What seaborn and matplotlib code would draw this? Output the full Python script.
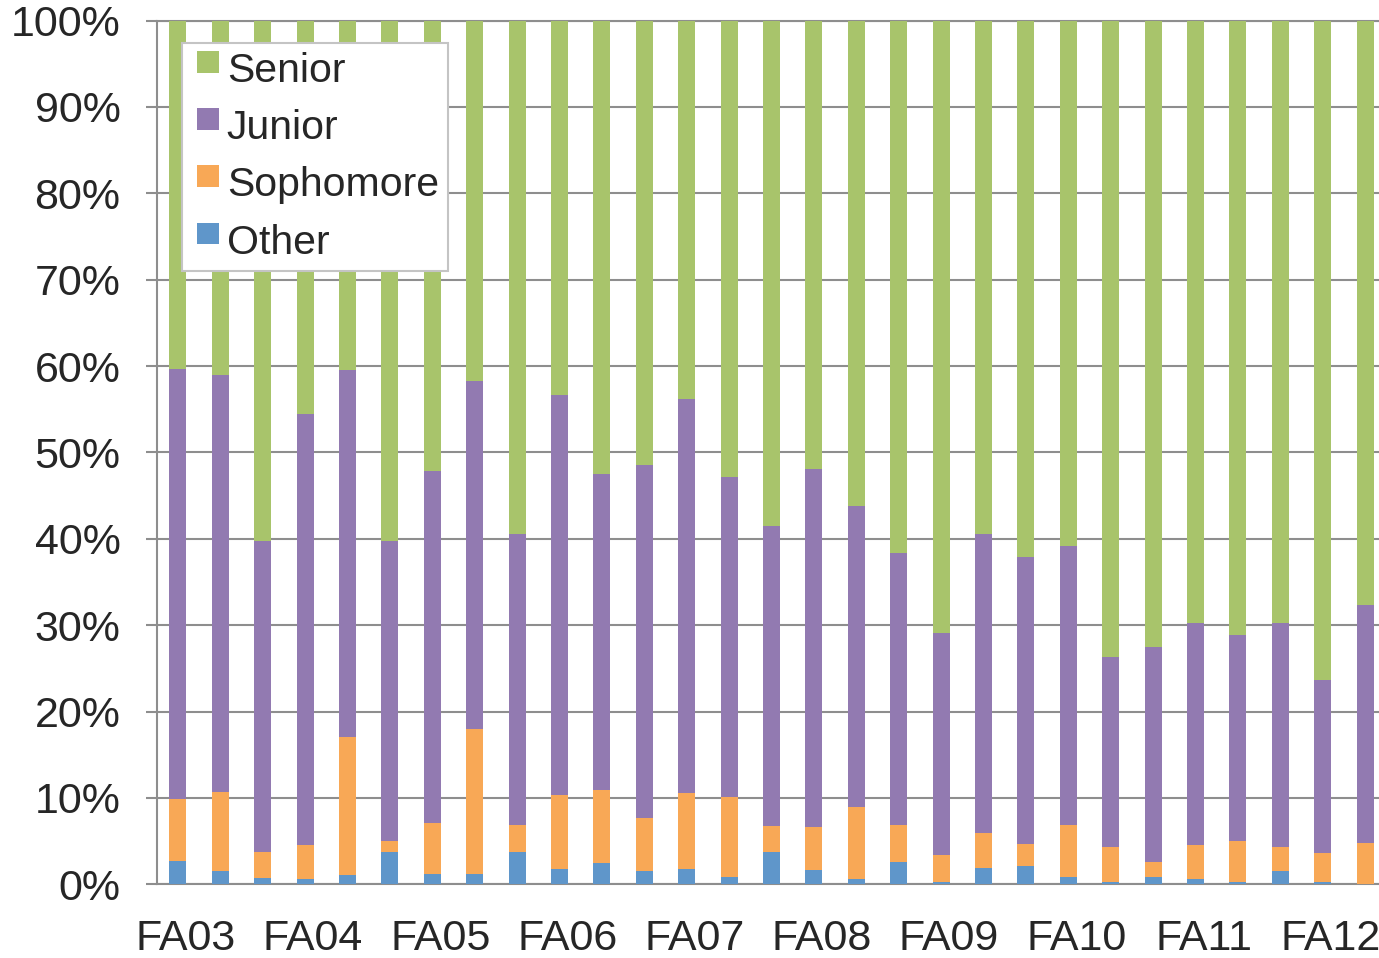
import numpy as np
import pandas as pd
import matplotlib
matplotlib.use("Agg")
import matplotlib.pyplot as plt
from matplotlib.patches import Rectangle
from matplotlib.legend_handler import HandlerPatch
from matplotlib.transforms import ScaledTranslation
from matplotlib.ticker import FixedLocator, PercentFormatter
import seaborn as sns

# Academic terms (fall, spring, summer)
terms = ["FA03", "SP04", "SU04", "FA04", "SP05", "SU05", "FA05", "SP06", "SU06",
         "FA06", "SP07", "SU07", "FA07", "SP08", "SU08", "FA08", "SP09", "SU09",
         "FA09", "SP10", "SU10", "FA10", "SP11", "SU11", "FA11", "SP12", "SU12",
         "FA12", "SP13"]
tick_labels = ["FA03", "FA04", "FA05", "FA06", "FA07", "FA08", "FA09", "FA10", "FA11", "FA12"]

# Share of enrollment by class standing (%)
other = [2.7, 1.5, 0.7, 0.6, 1.1, 3.7, 1.2, 1.2, 3.7, 1.8, 2.5, 1.5, 1.8, 0.8, 3.7,
         1.7, 0.6, 2.6, 0.3, 1.9, 2.1, 0.8, 0.3, 0.8, 0.6, 0.3, 1.6, 0.3, 0.0]
sophomore = [7.2, 9.2, 3.1, 4.0, 15.9, 1.3, 5.9, 16.8, 3.2, 8.5, 8.4, 6.2, 8.8, 9.3, 3.1,
             4.9, 8.3, 4.3, 3.1, 4.0, 2.6, 6.1, 4.0, 1.8, 4.0, 4.7, 2.7, 3.3, 4.8]
junior = [49.8, 48.3, 35.9, 49.9, 42.5, 34.8, 40.8, 40.3, 33.7, 46.3, 36.6, 40.9, 45.6, 37.0, 34.7,
          41.5, 34.9, 31.5, 25.7, 34.7, 33.2, 32.3, 22.0, 24.9, 25.7, 23.9, 25.9, 20.0, 27.5]
senior = [40.3, 41.0, 60.3, 45.5, 40.5, 60.2, 52.1, 41.7, 59.4, 43.4, 52.5, 51.4, 43.8, 52.9, 58.5,
          51.9, 56.2, 61.6, 70.9, 59.4, 62.1, 60.8, 73.7, 72.5, 69.7, 71.1, 69.8, 76.4, 67.7]

groups = ["Other", "Sophomore", "Junior", "Senior"]
colors = {"Senior": "#A8C46B", "Junior": "#927AB1", "Sophomore": "#F8A856", "Other": "#5F96CA"}

df = pd.DataFrame({"term": terms, "Other": other, "Sophomore": sophomore,
                   "Junior": junior, "Senior": senior})
shares = df[groups].div(df[groups].sum(axis=1), axis=0) * 100
cum = shares.cumsum(axis=1)
cum["term"] = df["term"]

sns.set_style("white")
plt.rcParams["font.family"] = ["Liberation Sans", "DejaVu Sans"]

grid_gray = "#8E8E8E"
fig = plt.figure(figsize=(13.79, 9.58), dpi=100)
ax = fig.add_axes([0.1136, 0.0769, 0.8917, 0.9017])

# Stack drawn back-to-front: cumulative tops, largest first
for g in ["Senior", "Junior", "Sophomore", "Other"]:
    sns.barplot(data=cum, x="term", y=g, order=terms, color=colors[g],
                saturation=1, width=0.4, label=g, ax=ax, zorder=3,
                linewidth=0, edgecolor="none")

ax.set_xlim(-0.5, len(terms) - 0.5)
ax.set_ylim(0, 100)
ax.set_xlabel("")
ax.set_ylabel("")

ax.yaxis.set_major_locator(FixedLocator(np.arange(0, 101, 10)))
ax.yaxis.set_major_formatter(PercentFormatter(decimals=0))
ax.grid(axis="y", color=grid_gray, linewidth=1.5, zorder=0)
ax.grid(axis="x", visible=False)
ax.set_axisbelow(True)

label_pos = [terms.index(t) for t in tick_labels]
ax.set_xticks(label_pos)
ax.set_xticklabels(tick_labels)
ax.set_xticks(np.arange(-0.5, len(terms), 1.0), minor=True)

ax.tick_params(axis="x", which="major", length=0, pad=25, labelsize=31)
ax.tick_params(axis="x", which="minor", length=8, width=1.5, color=grid_gray, direction="out")
ax.tick_params(axis="y", which="major", length=8, width=1.5, color=grid_gray,
               direction="out", pad=18, labelsize=31, left=True)

shift = ScaledTranslation(8 / 100, 0, fig.dpi_scale_trans)
for lab in ax.get_xticklabels():
    lab.set_transform(lab.get_transform() + shift)

for side in ["left", "bottom", "top"]:
    ax.spines[side].set_visible(True)
    ax.spines[side].set_color(grid_gray)
    ax.spines[side].set_linewidth(1.5)
ax.spines["right"].set_visible(False)


def square_swatch(legend, orig_handle, xdescent, ydescent, width, height, fontsize):
    # square key at the right end of the handle box, raised a little above the text centre
    return Rectangle((width - height - xdescent, -ydescent + 4), height, height)


containers, labels = ax.get_legend_handles_labels()
handles = [c.patches[0] if hasattr(c, "patches") else c for c in containers]
leg = ax.legend(handles, labels, loc="upper left", bbox_to_anchor=(0.0208, 0.974),
                borderaxespad=0, fontsize=29.5, handlelength=0.67, handleheight=0.44,
                handletextpad=0.2, borderpad=0.22, labelspacing=0.47, fancybox=False,
                framealpha=1, edgecolor="#C4C4C4",
                handler_map={Rectangle: HandlerPatch(patch_func=square_swatch)})
leg.get_frame().set_linewidth(1.5)
leg.set_zorder(5)

fig.savefig("out.png", dpi=100)
